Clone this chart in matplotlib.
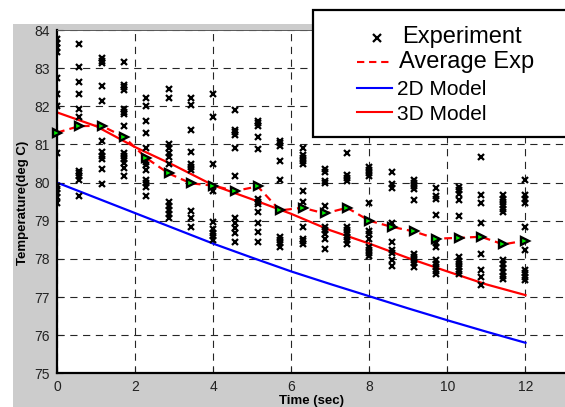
import matplotlib
matplotlib.use("Agg")
import matplotlib.pyplot as plt
from matplotlib.patches import Rectangle
from matplotlib.lines import Line2D

plt.rcParams['font.family'] = ['Liberation Sans', 'DejaVu Sans']

# ---------------- data ----------------
times = [0.0, 0.57, 1.14, 1.71, 2.29, 2.86, 3.43, 4.0, 4.57, 5.14, 5.71,
         6.29, 6.86, 7.43, 8.0, 8.57, 9.14, 9.71, 10.29, 10.86, 11.43, 12.0]

exp_temps = [
    [83.76, 83.65, 83.54, 83.43, 82.74, 82.31, 82.02, 80.77, 79.91, 79.82, 79.73, 79.63, 79.47],
    [83.63, 83.04, 82.63, 82.31, 81.92, 81.71, 80.31, 80.24, 80.17, 80.08, 79.65],
    [83.26, 83.20, 83.13, 82.54, 82.14, 81.09, 80.80, 80.69, 80.62, 80.36, 79.95],
    [83.15, 82.56, 82.50, 82.43, 81.92, 81.86, 81.79, 81.49, 80.78, 80.69, 80.61, 80.52, 80.37, 80.18],
    [82.21, 82.02, 81.61, 81.31, 80.91, 80.55, 80.45, 80.34, 80.08, 79.98, 79.89, 79.64],
    [82.46, 82.22, 81.02, 80.90, 80.78, 80.66, 80.50, 79.49, 79.38, 79.28, 79.17, 79.06],
    [82.22, 82.03, 81.38, 80.79, 80.50, 80.41, 80.34, 79.26, 79.07, 78.84],
    [82.33, 81.72, 80.49, 79.78, 78.97, 78.79, 78.68, 78.59, 78.50],
    [81.91, 81.39, 81.33, 81.26, 80.90, 80.17, 79.07, 78.93, 78.80, 78.69, 78.45],
    [81.62, 81.55, 81.48, 81.19, 80.89, 79.56, 79.50, 79.44, 79.24, 78.95, 78.71, 78.45],
    [81.10, 81.04, 80.97, 80.56, 80.07, 78.57, 78.49, 78.41, 78.32],
    [80.90, 80.72, 80.65, 80.57, 80.50, 79.78, 79.50, 78.84, 78.53, 78.46, 78.40],
    [80.36, 80.29, 80.05, 79.99, 79.38, 78.84, 78.75, 78.66, 78.53, 78.26],
    [80.78, 80.20, 80.11, 80.05, 78.84, 78.75, 78.67, 78.58, 78.49, 78.40],
    [80.40, 80.32, 80.25, 80.16, 79.47, 78.72, 78.64, 78.51, 78.32, 78.23, 78.15, 78.07],
    [80.28, 79.95, 79.87, 78.95, 78.45, 78.24, 78.15, 77.98, 77.81],
    [80.08, 79.99, 79.91, 79.82, 79.55, 78.14, 78.05, 77.96, 77.88, 77.79],
    [79.87, 79.65, 79.57, 79.14, 78.41, 78.31, 77.96, 77.87, 77.78, 77.69, 77.61],
    [79.89, 79.80, 79.71, 79.55, 79.13, 78.04, 77.95, 77.87, 77.78, 77.69, 77.61],
    [80.68, 79.67, 79.47, 78.93, 78.12, 77.71, 77.52, 77.31],
    [79.67, 79.58, 79.49, 79.41, 79.32, 79.23, 77.96, 77.86, 77.76, 77.66, 77.56, 77.46],
    [80.08, 79.67, 79.56, 79.46, 78.84, 78.23, 77.72, 77.63, 77.53, 77.44],
]

avg_exp = [81.31, 81.48, 81.49, 81.20, 80.64, 80.24, 79.98, 79.92, 79.78, 79.90, 79.27,
           79.34, 79.19, 79.34, 79.00, 78.84, 78.72, 78.53, 78.55, 78.58, 78.38, 78.48]

model_times = [0, 1, 2, 3, 4, 5, 6, 7, 8, 9, 10, 11, 12]
model_2d = [80.0, 79.6, 79.2, 78.8, 78.40, 78.03, 77.67, 77.34, 77.02, 76.70, 76.39, 76.09, 75.80]
model_3d = [81.84, 81.48, 80.93, 80.45, 79.93, 79.56, 79.18, 78.75, 78.40, 78.02, 77.67, 77.33, 77.05]

x_ticks = [0, 2, 4, 6, 8, 10, 12]
y_ticks = [75, 76, 77, 78, 79, 80, 81, 82, 83, 84]

legend_labels = ['Experiment', 'Average Exp', '2D Model', '3D Model']

# ---------------- layout helpers ----------------
W, H = 565, 407
def fx(px):
    return px / W
def fy(py):
    return 1 - py / H

fig = plt.figure(figsize=(W / 100, H / 100), dpi=100)
fig.patch.set_facecolor('white')

# MATLAB-style grey figure area
fig.patches.append(Rectangle((fx(13), 0), 1 - fx(13), fy(24), transform=fig.transFigure,
                             facecolor='#cccccc', edgecolor='none', zorder=-5))

px_per_unit = 39.04
x0_px, ytop_px, ybot_px = 57, 30, 373.3
xmax = 13.2
ax = fig.add_axes([fx(x0_px), fy(ybot_px), xmax * px_per_unit / W, (ybot_px - ytop_px) / H])
ax.set_zorder(1)
ax.set_facecolor('white')
ax.set_xlim(0, xmax)
ax.set_ylim(75, 84)
ax.set_xticks(x_ticks)
ax.set_yticks(y_ticks)

ax.spines['right'].set_visible(False)
ax.spines['top'].set_linewidth(0.7)
ax.spines['top'].set_color('0.35')
ax.spines['left'].set_linewidth(1.6)
ax.spines['bottom'].set_linewidth(1.6)

ax.tick_params(direction='in', length=4, width=0.8, labelsize=10, pad=5,
               top=False, right=False, colors='#222222')

ax.grid(True, color='0.15', linestyle=(0, (6.5, 5)), linewidth=0.8, zorder=0.5)
ax.set_axisbelow(True)

# models
ax.plot(model_times, model_2d, color='#0000ff', lw=1.6, zorder=2)
ax.plot(model_times, model_3d, color='#ff0000', lw=1.6, zorder=2)

# experiment points
for t, vals in zip(times, exp_temps):
    ax.plot([t] * len(vals), vals, linestyle='none', marker='x', color='black',
            ms=3.8, mew=1.6, zorder=3)

# average
ax.plot(times, avg_exp, color='#ff0000', lw=1.6, linestyle=(0, (3.5, 2.3)), zorder=4)
ax.plot(times, avg_exp, linestyle='none', marker='>', ms=6.0, mfc='#00ee00', mec='black',
        mew=1.7, zorder=5, clip_on=False)

ax.set_xlabel('Time (sec)', fontsize=9.5, fontweight='bold')
ax.xaxis.set_label_coords((311 - x0_px) / (xmax * px_per_unit), (ybot_px - 395) / (ybot_px - ytop_px))
ax.set_ylabel('Temperature(deg C)', fontsize=9.5, fontweight='bold')
ax.yaxis.label.set_rotation_mode('default')
ax.yaxis.label.set_verticalalignment('center')
ax.yaxis.set_label_coords((23 - x0_px) / (xmax * px_per_unit), (ybot_px - 203) / (ybot_px - ytop_px))

# legend (MATLAB-like box)
fig.add_artist(Rectangle((fx(313), fy(137)), fx(590) - fx(313), fy(10) - fy(137),
                         transform=fig.transFigure, facecolor='white', edgecolor='black',
                         lw=1.6, zorder=10))
fig.add_artist(Line2D([fx(377)], [fy(38)], transform=fig.transFigure, marker='x',
                      color='black', ms=5.5, mew=1.6, linestyle='none', zorder=11))
fig.add_artist(Line2D([fx(357), fx(393)], [fy(62), fy(62)], transform=fig.transFigure,
                      color='#ff0000', lw=1.5, linestyle=(0, (3.5, 2.3)), zorder=11))
fig.add_artist(Line2D([fx(357), fx(392)], [fy(87.5), fy(87.5)], transform=fig.transFigure,
                      color='#0000ff', lw=1.5, zorder=11))
fig.add_artist(Line2D([fx(357), fx(392)], [fy(112), fy(112)], transform=fig.transFigure,
                      color='#ff0000', lw=1.5, zorder=11))
fig.text(fx(402), fy(43), legend_labels[0], fontsize=17, va='baseline', ha='left', zorder=12)
fig.text(fx(399), fy(68), legend_labels[1], fontsize=17, va='baseline', ha='left', zorder=12)
fig.text(fx(397), fy(95), legend_labels[2], fontsize=15, va='baseline', ha='left', zorder=12)
fig.text(fx(397), fy(120), legend_labels[3], fontsize=15, va='baseline', ha='left', zorder=12)

fig.savefig('out.png', dpi=100)
